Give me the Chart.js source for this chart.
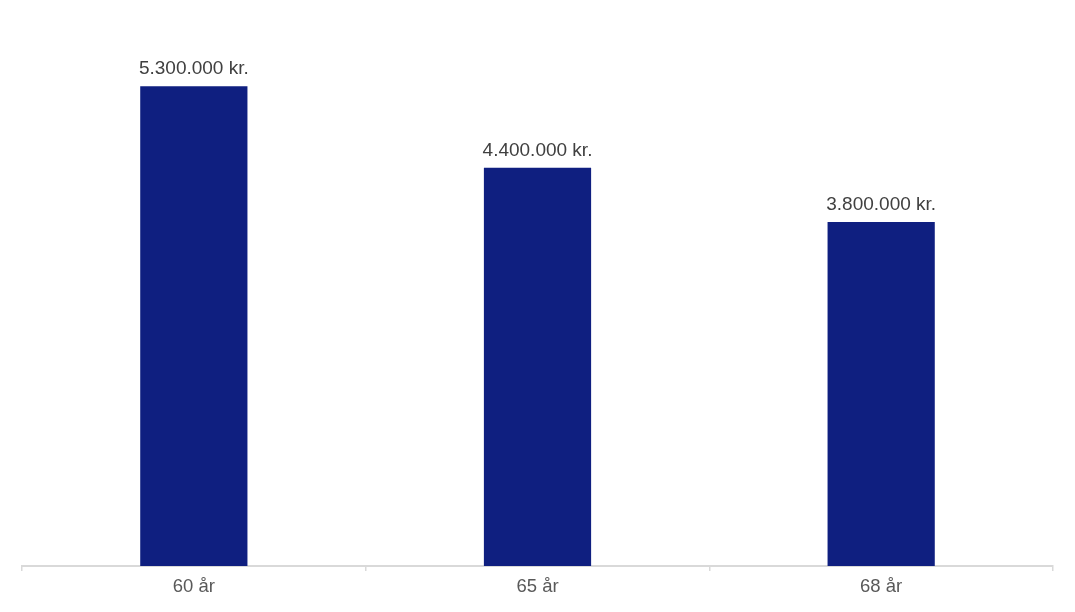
<!DOCTYPE html>
<html>
<head>
<meta charset="utf-8">
<script src="https://cdn.jsdelivr.net/npm/chart.js@4.4.1/dist/chart.umd.min.js"></script>
<style>
html,body{margin:0;padding:0;background:#fff;}
#wrap{width:1075px;height:612px;position:relative;}
</style>
</head>
<body>
<div id="wrap"><canvas id="c"></canvas></div>
<script>
const categories = ["60 år", "65 år", "68 år"];
const values = [5300000, 4400000, 3800000];
const yMax = 6000000;

function fmt(v){
  return String(Math.round(v)).replace(/\B(?=(\d{3})+(?!\d))/g, ".") + " kr.";
}

const labelPlugin = {
  id: 'barLabels',
  afterDatasetsDraw(chart){
    const ctx = chart.ctx;
    const meta = chart.getDatasetMeta(0);
    ctx.save();
    ctx.font = '19px "Liberation Sans", Arial, sans-serif';
    ctx.fillStyle = '#404040';
    ctx.textAlign = 'center';
    ctx.textBaseline = 'alphabetic';
    meta.data.forEach((bar, i) => {
      ctx.fillText(fmt(chart.data.datasets[0].data[i]), bar.x, bar.y - 12);
    });
    ctx.restore();
  }
};

new Chart(document.getElementById('c'), {
  type: 'bar',
  data: {
    labels: categories,
    datasets: [{
      data: values,
      backgroundColor: '#0f1f80',
      borderWidth: 0,
      categoryPercentage: 1,
      barPercentage: 0.312
    }]
  },
  options: {
    responsive: true,
    maintainAspectRatio: false,
    animation: false,
    layout: { padding: { left: 22, right: 22, top: 23, bottom: 0 } },
    plugins: { legend: { display: false }, tooltip: { enabled: false } },
    scales: {
      x: {
        offset: true,
        grid: { offset: true, drawOnChartArea: false, tickLength: 5, color: '#d9d9d9', lineWidth: 1.5 },
        border: { display: true, color: '#d9d9d9', width: 2 },
        ticks: { color: '#595959', font: { family: '"Liberation Sans", Arial, sans-serif', size: 18.5 }, padding: 5 },
        afterFit(scale){ scale.height = 46; }
      },
      y: {
        display: false,
        min: 0,
        max: yMax
      }
    }
  },
  plugins: [labelPlugin]
});
</script>
</body>
</html>
